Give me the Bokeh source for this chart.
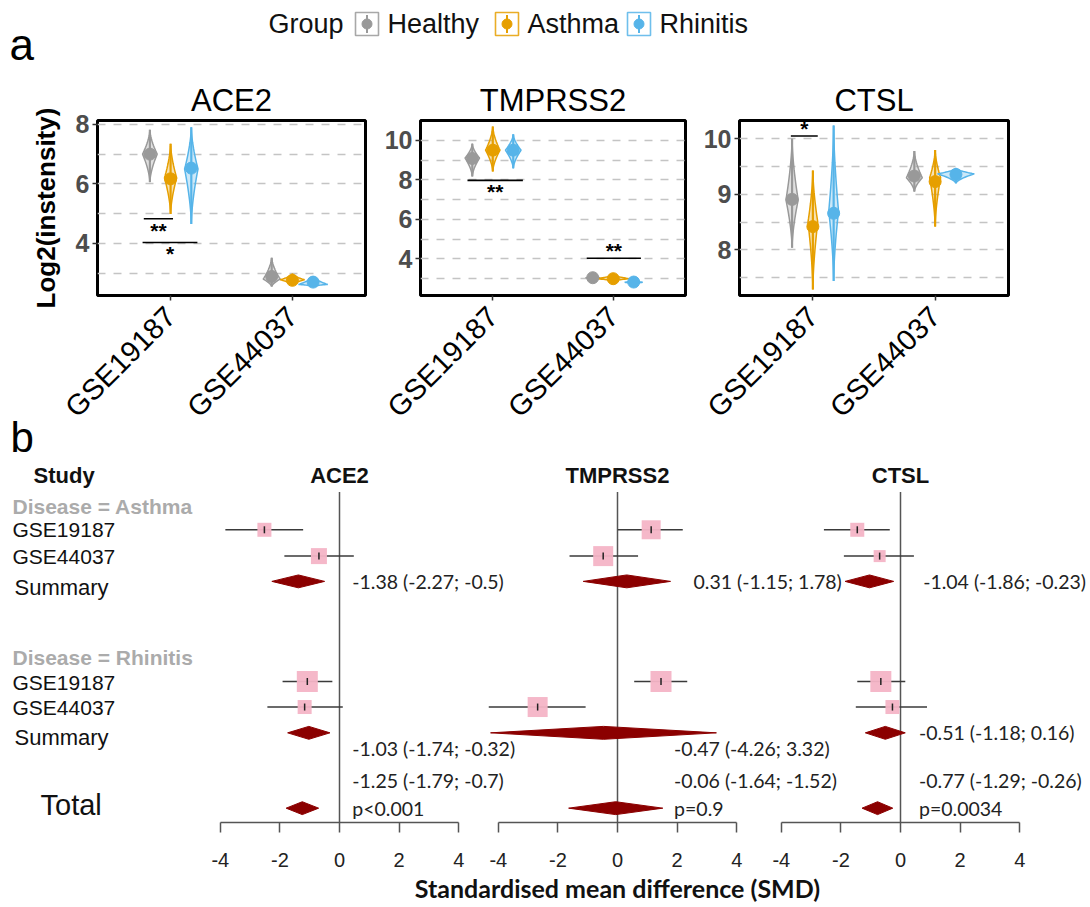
import math
from bokeh.plotting import figure
from bokeh.models import Range1d, FixedTicker, LinearAxis, ColumnDataSource
from bokeh.layouts import column, row
from bokeh.embed import file_html
from bokeh.resources import INLINE
from bokeh.core.properties import value

FONT = "Liberation Sans"
NUMFONT = "Lato"

# ======================= DATA : panel a =======================
genes = ["ACE2", "TMPRSS2", "CTSL"]
datasets = ["GSE19187", "GSE44037"]
groups = ["Healthy", "Asthma", "Rhinitis"]
group_colors = ["#999999", "#E69F00", "#56B4E9"]

# values indexed [dataset][group]
ace2_mean = [[7.00, 6.17, 6.53], [2.89, 2.76, 2.70]]
ace2_min = [[6.06, 4.99, 4.65], [2.55, 2.60, 2.56]]
ace2_max = [[7.82, 7.35, 7.90], [3.52, 2.98, 2.90]]
ace2_mode = [[7.00, 6.20, 6.50], [2.80, 2.78, 2.62]]
ace2_dens = [[0.06, 0.05, 0.055], [0.07, 0.10, 0.12]]

tmprss2_mean = [[9.08, 9.50, 9.50], [3.05, 3.00, 2.83]]
tmprss2_min = [[8.17, 8.42, 8.58], [2.92, 2.88, 2.72]]
tmprss2_max = [[9.83, 10.70, 10.30], [3.18, 3.20, 2.95]]
tmprss2_mode = [[9.10, 9.50, 9.50], [3.05, 3.00, 2.82]]
tmprss2_dens = [[0.06, 0.06, 0.065], [0.06, 0.14, 0.075]]

ctsl_mean = [[8.91, 8.42, 8.66], [9.33, 9.23, 9.36]]
ctsl_min = [[8.04, 7.29, 7.44], [9.05, 8.42, 9.20]]
ctsl_max = [[10.00, 9.43, 10.24], [9.78, 9.80, 9.47]]
ctsl_mode = [[8.90, 8.50, 8.70], [9.30, 9.30, 9.37]]
ctsl_dens = [[0.05, 0.04, 0.04], [0.065, 0.045, 0.15]]

# significance brackets
sig_gene = ["ACE2", "ACE2", "TMPRSS2", "TMPRSS2", "CTSL"]
sig_x0 = [0.78, 0.77, 0.79, 1.78, 0.82]
sig_x1 = [1.02, 1.22, 1.25, 2.23, 1.04]
sig_y = [4.83, 4.03, 7.97, 4.03, 10.05]
sig_label = ["**", "*", "**", "**", "*"]
sig_label_y = [4.50, 3.72, 7.50, 4.55, 10.22]

# ======================= DATA : panel b =======================
study_names = ["GSE19187", "GSE44037", "GSE19187", "GSE44037"]
study_disease = ["Asthma", "Asthma", "Rhinitis", "Rhinitis"]

ace2_smd = [-2.52, -0.69, -1.08, -1.17]
ace2_lo = [-3.83, -1.85, -1.91, -2.42]
ace2_hi = [-1.22, 0.48, -0.24, 0.11]
ace2_w = [14, 16, 21, 14]

tmprss2_smd = [1.13, -0.48, 1.46, -2.68]
tmprss2_lo = [0.01, -1.61, 0.56, -4.32]
tmprss2_hi = [2.19, 0.69, 2.34, -1.07]
tmprss2_w = [19, 20, 21, 20]

ctsl_smd = [-1.45, -0.70, -0.66, -0.27]
ctsl_lo = [-2.57, -1.90, -1.45, -1.50]
ctsl_hi = [-0.36, 0.45, 0.16, 0.89]
ctsl_w = [14, 12, 21, 14]

summary_names = ["Asthma", "Rhinitis", "Total"]
ace2_sum = [-1.38, -1.03, -1.25]
ace2_sum_lo = [-2.27, -1.74, -1.79]
ace2_sum_hi = [-0.50, -0.32, -0.70]
tmprss2_sum = [0.31, -0.47, -0.06]
tmprss2_sum_lo = [-1.15, -4.26, -1.64]
tmprss2_sum_hi = [1.78, 3.32, 1.52]
ctsl_sum = [-1.04, -0.51, -0.77]
ctsl_sum_lo = [-1.86, -1.18, -1.29]
ctsl_sum_hi = [-0.23, 0.16, -0.26]

ace2_sum_text = ["-1.38 (-2.27; -0.5)", "-1.03 (-1.74; -0.32)", "-1.25 (-1.79; -0.7)"]
tmprss2_sum_text = ["0.31 (-1.15; 1.78)", "-0.47 (-4.26; 3.32)", "-0.06 (-1.64; -1.52)"]
ctsl_sum_text = ["-1.04 (-1.86; -0.23)", "-0.51 (-1.18; 0.16)", "-0.77 (-1.29; -0.26)"]
total_p = ["p<0.001", "p=0.9", "p=0.0034"]
smd_ticks = [-4, -2, 0, 2, 4]

# ======================= LAYOUT constants =======================
DODGE = [-0.17, 0.0, 0.17]
A_H = 377
A_TOP = 45
A_BOTTOM = 157


def violin_outline(x, lo, mode, hi, hw, n=14):
    """Closed outline of a narrow violin (widest at the mode, thin tails)."""
    right_x, right_y = [], []
    for i in range(n + 1):
        t = i / n
        right_y.append(lo + (mode - lo) * t)
        right_x.append(x + hw * t ** 1.6)
    for i in range(1, n + 1):
        t = 1 - i / n
        right_y.append(mode + (hi - mode) * (i / n))
        right_x.append(x + hw * t ** 1.6)
    left_x = [2 * x - v for v in reversed(right_x)]
    left_y = list(reversed(right_y))
    return right_x + left_x, right_y + left_y


def panel_a(gene, mean, vmin, vmax, vmode, vdens, ylim, yticks, ygrid, width, left, frame_w, first):
    p = figure(width=width, height=A_H, x_range=Range1d(0.4, 2.6), y_range=Range1d(*ylim),
               output_backend="svg", toolbar_location=None, title=gene,
               min_border_left=left, min_border_right=width - left - frame_w,
               min_border_top=A_TOP, min_border_bottom=A_BOTTOM)
    p.title.align = "center"
    p.title.text_font = FONT
    p.title.text_font_size = "31px"
    p.title.text_font_style = "normal"
    p.title.text_color = "black"
    p.title.standoff = 6
    p.outline_line_color = "black"
    p.outline_line_width = 3
    p.outline_line_alpha = 1.0
    p.background_fill_color = "white"
    p.border_fill_color = "white"
    p.xgrid.visible = False
    p.ygrid.ticker = FixedTicker(ticks=ygrid)
    p.ygrid.grid_line_color = "#C4C4C4"
    p.ygrid.grid_line_dash = "8 8"
    p.ygrid.grid_line_width = 1.5

    p.yaxis.ticker = FixedTicker(ticks=yticks)
    p.yaxis.major_label_text_font = FONT
    p.yaxis.major_label_text_font_style = "bold"
    p.yaxis.major_label_text_font_size = "25px"
    p.yaxis.major_label_text_color = "#4D4D4D"
    p.yaxis.axis_line_color = None
    p.yaxis.major_tick_in = 0
    p.yaxis.major_tick_out = 5
    p.yaxis.major_tick_line_color = "#333333"
    p.yaxis.major_tick_line_width = 1.5
    p.yaxis.minor_tick_line_color = None
    p.yaxis.major_label_standoff = 3

    p.xaxis.ticker = FixedTicker(ticks=[i + 1 for i in range(len(datasets))])
    p.xaxis.major_label_overrides = {i + 1: d for i, d in enumerate(datasets)}
    p.xaxis.major_label_orientation = math.pi / 4
    p.xaxis.major_label_text_font = FONT
    p.xaxis.major_label_text_font_size = "29px"
    p.xaxis.major_label_text_color = "black"
    p.xaxis.axis_line_color = None
    p.xaxis.major_tick_in = 0
    p.xaxis.major_tick_out = 5
    p.xaxis.major_tick_line_color = "#333333"
    p.xaxis.major_tick_line_width = 1.5
    p.xaxis.minor_tick_line_color = None
    p.xaxis.major_label_standoff = 11

    if first:
        p.yaxis.axis_label = "Log2(instensity)"
        p.yaxis.axis_label_text_font = FONT
        p.yaxis.axis_label_text_font_style = "bold"
        p.yaxis.axis_label_text_font_size = "26px"
        p.yaxis.axis_label_text_color = "black"
        p.yaxis.axis_label_standoff = 12

    xs, ys, px, pm, plo, phi, col = [], [], [], [], [], [], []
    for di in range(len(datasets)):
        for gi in range(len(groups)):
            x = di + 1 + DODGE[gi]
            vx, vy = violin_outline(x, vmin[di][gi], vmode[di][gi], vmax[di][gi], vdens[di][gi])
            xs.append(vx)
            ys.append(vy)
            px.append(x)
            pm.append(mean[di][gi])
            plo.append(vmin[di][gi])
            phi.append(vmax[di][gi])
            col.append(group_colors[gi])
    vs = ColumnDataSource(dict(xs=xs, ys=ys, color=col))
    p.patches("xs", "ys", source=vs, fill_color="color", fill_alpha=0.3,
              line_color="color", line_width=1.5)
    ps = ColumnDataSource(dict(x=px, m=pm, lo=plo, hi=phi, color=col))
    p.segment(x0="x", y0="lo", x1="x", y1="hi", source=ps, line_color="color", line_width=2.2)
    p.scatter("x", "m", source=ps, marker="circle", size=12, fill_color="color",
              line_color="color")

    idx = [i for i, g in enumerate(sig_gene) if g == gene]
    if idx:
        ss = ColumnDataSource(dict(
            x0=[sig_x0[i] for i in idx], x1=[sig_x1[i] for i in idx],
            y=[sig_y[i] for i in idx], lab=[sig_label[i] for i in idx],
            ly=[sig_label_y[i] for i in idx],
            xm=[(sig_x0[i] + sig_x1[i]) / 2 for i in idx]))
        p.segment(x0="x0", y0="y", x1="x1", y1="y", source=ss, line_color="black", line_width=1.6)
        p.text(x="xm", y="ly", text="lab", source=ss, text_font=value(FONT),
               text_font_size="21px", text_font_style="bold", text_color="black",
               text_align="center", text_baseline="alphabetic", y_offset=2)
    return p


a1 = panel_a("ACE2", ace2_mean, ace2_min, ace2_max, ace2_mode, ace2_dens,
             (2.25, 8.13), [4, 6, 8], [3, 4, 5, 6, 7, 8], 370, 97, 268, True)
a2 = panel_a("TMPRSS2", tmprss2_mean, tmprss2_min, tmprss2_max, tmprss2_mode, tmprss2_dens,
             (2.15, 11.0), [4, 6, 8, 10], [3, 4, 5, 6, 7, 8, 9, 10], 319, 50, 265, False)
a3 = panel_a("CTSL", ctsl_mean, ctsl_min, ctsl_max, ctsl_mode, ctsl_dens,
             (7.18, 10.33), [8, 9, 10], [7.5, 8, 8.5, 9, 9.5, 10], 401, 50, 269, False)

# ======================= header with legend (pixel-like coordinates) =======================
HDR_H = 75
LEG_BOX_X = [355, 495, 627]     # left edge of each legend key
LEG_Y = 23.5
hdr = figure(width=1090, height=HDR_H, x_range=Range1d(0, 1090), y_range=Range1d(HDR_H, 0),
             x_axis_type=None, y_axis_type=None, min_border=0, output_backend="svg",
             toolbar_location=None)
hdr.outline_line_color = None
hdr.grid.visible = False
kx = [b + 11.5 for b in LEG_BOX_X]
hdr.rect(x=kx, y=[LEG_Y] * 3, width=23, height=23, width_units="screen", height_units="screen",
         fill_color="white", line_color=group_colors, line_width=1.6, line_alpha=0.85)
hdr.segment(x0=kx, y0=[LEG_Y - 9] * 3, x1=kx, y1=[LEG_Y + 9] * 3, line_color=group_colors,
            line_width=2)
hdr.scatter(x=kx, y=[LEG_Y] * 3, size=10, marker="circle", fill_color=group_colors,
            line_color=group_colors)
hdr.text(x=[b + 32 for b in LEG_BOX_X], y=[LEG_Y] * 3, text=groups, text_font=value(FONT),
         text_font_size="27px", text_color="#111111", text_baseline="middle")
hdr.text(x=[268], y=[LEG_Y], text=["Group"], text_font=value(FONT), text_font_size="27px",
         text_color="#111111", text_baseline="middle")
hdr.text(x=[9], y=[44], text=["a"], text_font=value(FONT), text_font_size="44px",
         text_color="black", text_baseline="alphabetic")

# ======================= forest plot (panel b) =======================
PPU = 29.8                                  # pixels per SMD unit
ZERO_PX = {"ACE2": 339, "TMPRSS2": 617, "CTSL": 900}   # zero position within the figure
OVERLAP = 50                                # forest canvas slides under the rotated labels
ROW_PX = 25.8
FW, FH = 1090, 455 + OVERLAP
ROW_STUDY = [0.0, 1.02, 5.88, 6.87]
ROW_SUM = [2.0, 7.87, 10.79]
SUM_TEXT_ROW = {"ACE2": [2.0, 8.49, 9.72], "TMPRSS2": [2.0, 8.49, 9.72], "CTSL": [2.0, 7.87, 9.72]}
SUM_TEXT_X = {"ACE2": [0.43, 0.43, 0.43], "TMPRSS2": [2.55, 1.90, 1.90], "CTSL": [0.76, 0.62, 0.62]}
AXIS_ROW = 11.33
HALF_H = 0.25
ROW_BOTTOM = 14.64

pf = figure(width=FW, height=FH, x_range=Range1d(0, FW),
            y_range=Range1d(ROW_BOTTOM, ROW_BOTTOM - FH / ROW_PX),
            x_axis_type=None, y_axis_type=None, min_border=0, output_backend="svg",
            toolbar_location=None)
pf.margin = (-OVERLAP, 0, 0, 0)
pf.background_fill_color = None
pf.border_fill_color = None
pf.outline_line_color = None
pf.grid.visible = False
pf.extra_x_ranges = {g: Range1d(-ZERO_PX[g] / PPU, (FW - ZERO_PX[g]) / PPU) for g in genes}

forest = {
    "ACE2": (ace2_smd, ace2_lo, ace2_hi, ace2_w, ace2_sum, ace2_sum_lo, ace2_sum_hi, ace2_sum_text),
    "TMPRSS2": (tmprss2_smd, tmprss2_lo, tmprss2_hi, tmprss2_w, tmprss2_sum, tmprss2_sum_lo,
                tmprss2_sum_hi, tmprss2_sum_text),
    "CTSL": (ctsl_smd, ctsl_lo, ctsl_hi, ctsl_w, ctsl_sum, ctsl_sum_lo, ctsl_sum_hi, ctsl_sum_text),
}


def ftext(x, y, labels, size, font=FONT, style="normal", color="#111111", align="left",
          baseline="middle", **kw):
    pf.text(x=x, y=y, text=labels, text_font=value(font), text_font_size=size,
            text_font_style=style, text_color=color, text_align=align,
            text_baseline=baseline, **kw)


for k, g in enumerate(genes):
    smd, lo, hi, w, es, elo, ehi, etext = forest[g]
    pf.segment(x0=[0], y0=[-1.46], x1=[0], y1=[AXIS_ROW], x_range_name=g,
               line_color="#555555", line_width=1.5)
    pf.segment(x0=lo, y0=ROW_STUDY, x1=hi, y1=ROW_STUDY, x_range_name=g,
               line_color="#3A3A3A", line_width=1.5)
    pf.scatter(x=smd, y=ROW_STUDY, size=w, marker="square", x_range_name=g,
               fill_color="#F4B4C6", line_color=None, fill_alpha=0.95)
    pf.scatter(x=smd, y=ROW_STUDY, size=7, marker="dash", angle=math.pi / 2, x_range_name=g,
               line_color="#222222", line_width=1.5)
    dxs = [[elo[i], es[i], ehi[i], es[i]] for i in range(len(es))]
    dys = [[ROW_SUM[i], ROW_SUM[i] - HALF_H, ROW_SUM[i], ROW_SUM[i] + HALF_H] for i in range(len(es))]
    pf.patches(xs=dxs, ys=dys, x_range_name=g, fill_color="#8B0000", line_color="#8B0000")
    ftext(SUM_TEXT_X[g], SUM_TEXT_ROW[g], etext, "19.5px", font=NUMFONT, color="#222222",
          x_range_name=g)
    ftext([SUM_TEXT_X[g][2]], [ROW_SUM[2]], [total_p[k]], "19.5px", font=NUMFONT,
          color="#222222", x_range_name=g)
    ftext([0], [-2.11], [g], "22px", style="bold", align="center", x_range_name=g)

    ax = LinearAxis(x_range_name=g, fixed_location=AXIS_ROW, bounds=(-4, 4),
                    ticker=FixedTicker(ticks=smd_ticks))
    ax.major_label_overrides = {t: str(t) for t in smd_ticks}
    ax.major_tick_in = 0
    ax.major_tick_out = 10
    ax.minor_tick_line_color = None
    ax.axis_line_color = "#555555"
    ax.axis_line_width = 1.5
    ax.major_tick_line_color = "#555555"
    ax.major_tick_line_width = 1.5
    ax.major_label_text_font = FONT
    ax.major_label_text_font_size = "20px"
    ax.major_label_text_color = "#222222"
    ax.major_label_standoff = 21
    if g == "TMPRSS2":
        ax.axis_label = "Standardised mean difference (SMD)"
        ax.axis_label_text_font = NUMFONT
        ax.axis_label_text_font_style = "bold"
        ax.axis_label_text_font_size = "25px"
        ax.axis_label_text_color = "#111111"
        ax.axis_label_standoff = 2
    pf.add_layout(ax, "below")

# panel letter and left-hand study column
ftext([10], [-3.58], ["b"], "42px", color="black", baseline="alphabetic")
ftext([33], [-2.11], ["Study"], "22px", style="bold")
ftext([12], [-0.90], ["Disease = " + summary_names[0]], "21px", style="bold", color="#ABABAB")
ftext([12], [4.94], ["Disease = " + summary_names[1]], "21px", style="bold", color="#ABABAB")
ftext([12] * 4, ROW_STUDY[:2] + [5.91, 6.87], study_names, "21px")
ftext([14, 14], [2.22, 8.04], ["Summary", "Summary"], "22px")
ftext([40], [10.68], [summary_names[2]], "29px")

layout = column(hdr, row(a1, a2, a3, spacing=0), pf, spacing=0)
open("out.html", "w").write(file_html(layout, INLINE))
